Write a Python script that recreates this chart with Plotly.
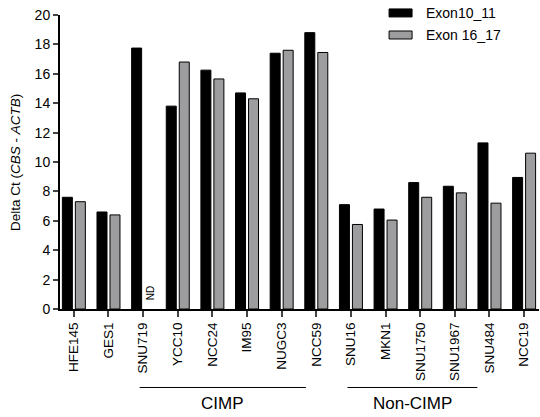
import plotly.graph_objects as go

categories = ["HFE145", "GES1", "SNU719", "YCC10", "NCC24", "IM95", "NUGC3", "NCC59",
              "SNU16", "MKN1", "SNU1750", "SNU1967", "SNU484", "NCC19"]
exon10_11 = [7.6, 6.6, 17.75, 13.8, 16.25, 14.7, 17.4, 18.8, 7.1, 6.8, 8.6, 8.35, 11.3, 8.95]
exon16_17 = [7.3, 6.4, None, 16.8, 15.65, 14.3, 17.6, 17.45, 5.75, 6.05, 7.6, 7.9, 7.2, 10.6]
series_names = ["Exon10_11", "Exon 16_17"]
series_colors = ["black", "#9d9d9f"]
groups = {"CIMP": ["SNU719", "NCC59"], "Non-CIMP": ["SNU16", "SNU484"]}
y_ticks = [0, 2, 4, 6, 8, 10, 12, 14, 16, 18, 20]
y_title = "Delta Ct (<i>CBS</i> - <i>ACTB</i>)"

FONT = "Arial, Liberation Sans, sans-serif"
idx = {c: i for i, c in enumerate(categories)}

fig = go.Figure()
for name, vals, col in zip(series_names, [exon10_11, exon16_17], series_colors):
    fig.add_trace(go.Bar(x=list(range(len(categories))), y=vals, name=name,
                         showlegend=False,
                         marker=dict(color=col, line=dict(color="black", width=1))))

shapes = []
annotations = []
for label, (a, b) in groups.items():
    x0 = idx[a] - 0.1
    x1 = idx[b] - 0.3 + (0.0 if label == "CIMP" else -0.05)
    shapes.append(dict(type="line", xref="x", yref="paper", x0=x0, x1=x1,
                       y0=-0.267, y1=-0.267, line=dict(color="black", width=1)))
    annotations.append(dict(x=(x0 + x1) / 2, y=-0.32, xref="x", yref="paper",
                            text=label, showarrow=False, yanchor="middle",
                            font=dict(family=FONT, size=17, color="black")))
# ND label for missing value
annotations.append(dict(x=idx["SNU719"] + 0.22, y=0.45, xref="x", yref="y", text="ND",
                        textangle=-90, showarrow=False, yanchor="bottom",
                        font=dict(family=FONT, size=10, color="black")))
# y-axis title
annotations.append(dict(x=-0.094, y=0.5, xref="paper", yref="paper", text=y_title,
                        textangle=-90, showarrow=False, xanchor="center", yanchor="middle",
                        font=dict(family=FONT, size=13.5, color="black")))

# custom legend (wide rectangles like the original)
leg_x0, leg_x1, leg_tx = 0.687, 0.735, 0.76
leg_rows = [1.007, 0.932]
for name, col, yc in zip(series_names, series_colors, leg_rows):
    shapes.append(dict(type="rect", xref="paper", yref="paper", x0=leg_x0, x1=leg_x1,
                       y0=yc - 0.0136, y1=yc + 0.0136, fillcolor=col,
                       line=dict(color="black", width=1)))
    annotations.append(dict(x=leg_tx, y=yc, xref="paper", yref="paper", text=name,
                            xanchor="left", yanchor="middle", showarrow=False,
                            font=dict(family=FONT, size=14, color="black")))

fig.update_layout(
    width=540, height=417,
    margin=dict(l=60, r=1, t=15, b=108, autoexpand=False),
    paper_bgcolor="white", plot_bgcolor="white",
    barmode="group", bargap=0.25, bargroupgap=0.23,
    font=dict(family=FONT, size=12, color="black"),
    showlegend=False,
    shapes=shapes, annotations=annotations,
)
fig.update_xaxes(
    range=[-0.4, 13.43], tickmode="array", tickvals=list(range(len(categories))),
    ticktext=categories, tickangle=-90, ticks="outside", ticklen=6, tickwidth=1.5,
    showline=True, linecolor="black", linewidth=2, showgrid=False, zeroline=False,
    tickfont=dict(family=FONT, size=13.5, color="black"), automargin=False,
)
fig.update_yaxes(
    range=[0, 20], tickmode="array", tickvals=y_ticks, ticks="outside", ticklen=5,
    tickwidth=1.5, showline=True, linecolor="black", linewidth=2, showgrid=False,
    zeroline=False, tickfont=dict(family=FONT, size=14, color="black"), automargin=False,
)
fig.write_html("out.html", post_script="document.body.style.margin='0px';",
               config={"displayModeBar": False})
